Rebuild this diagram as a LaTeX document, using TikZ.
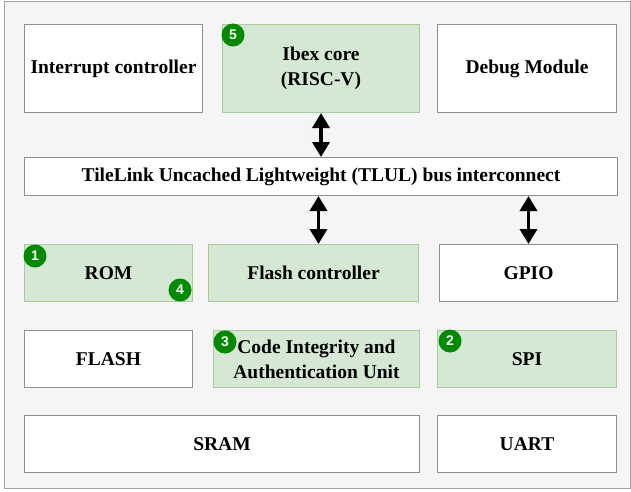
\documentclass[tikz,border=0pt]{standalone}
\usepackage{fontspec}
\setmainfont{Liberation Serif}
\newfontfamily\badgefont{Liberation Sans}
\usetikzlibrary{arrows.meta, positioning}
\definecolor{canvas}{HTML}{F5F5F5}
\definecolor{frameline}{HTML}{A0A0A0}
\definecolor{boxline}{HTML}{8F8F8F}
\definecolor{blockgreen}{HTML}{D5E8D4}
\definecolor{blockgreenline}{HTML}{A8CB98}
\definecolor{badgegreen}{HTML}{008A00}

\tikzset{
    block/.style={draw=boxline, fill=white, line width=1pt, inner sep=0pt,
        anchor=north west, align=center,
        font=\fontsize{19.5}{25}\selectfont\bfseries},
    greenblock/.style={block, draw=blockgreenline, fill=blockgreen},
    badge/.style={circle, fill=badgegreen, text=white, inner sep=0pt,
        minimum size=23pt, font=\badgefont\fontsize{14}{14}\selectfont\bfseries},
    busarrow/.style={{Triangle[width=17pt,length=15pt]}-{Triangle[width=17pt,length=15pt]},
        line width=3.5pt}
}

\begin{document}
\begin{tikzpicture}[x=1pt, y=-1pt]
        \useasboundingbox (0,0) rectangle (631,491);
        \draw[frameline, fill=canvas] (4,1) rectangle (630.5,488);

        % top row
        \node[block, minimum width=178pt, minimum height=88pt] (irq) at (24,24) {Interrupt controller};
        \node[greenblock, minimum width=197pt, minimum height=88pt] (ibex) at (222,24) {Ibex core\\(RISC-V)};
        \node[block, minimum width=179pt, minimum height=88pt] (debug) at (437,24) {Debug Module};

        % bus
        \node[block, minimum width=593pt, minimum height=38pt] (bus) at (24,157) {TileLink Uncached Lightweight (TLUL) bus interconnect};

        % peripherals
        \node[greenblock, minimum width=168pt, minimum height=57pt] (rom) at (24,244) {ROM};
        \node[greenblock, minimum width=210pt, minimum height=57pt] (flashctl) at (208,244) {Flash controller};
        \node[block, minimum width=178pt, minimum height=57pt] (gpio) at (439,244) {GPIO};

        \node[block, minimum width=168pt, minimum height=57pt] (flash) at (24,330) {FLASH};
        \node[greenblock, minimum width=206pt, minimum height=57pt] (ciau) at (213,330) {Code Integrity and\\Authentication Unit};
        \node[greenblock, minimum width=179pt, minimum height=57pt] (spi) at (437,330) {SPI};

        \node[block, minimum width=395pt, minimum height=57pt] (sram) at (24,415) {SRAM};
        \node[block, minimum width=179pt, minimum height=57pt] (uart) at (437,415) {UART};

        % numbered steps
        \node[badge] (step1) at (35,256) {1};
        \node[badge] (step2) at (450,341) {2};
        \node[badge] (step3) at (225,342) {3};
        \node[badge] (step4) at (180,290) {4};
        \node[badge] (step5) at (233,35) {5};

        % bus links
        \draw[busarrow] (ibex.south) -- (ibex.south |- bus.north);
        \draw[busarrow] ([xshift=5pt]flashctl.north |- bus.south) -- ([xshift=5pt]flashctl.north);
        \draw[busarrow] (gpio.north |- bus.south) -- (gpio.north);
\end{tikzpicture}
\end{document}
